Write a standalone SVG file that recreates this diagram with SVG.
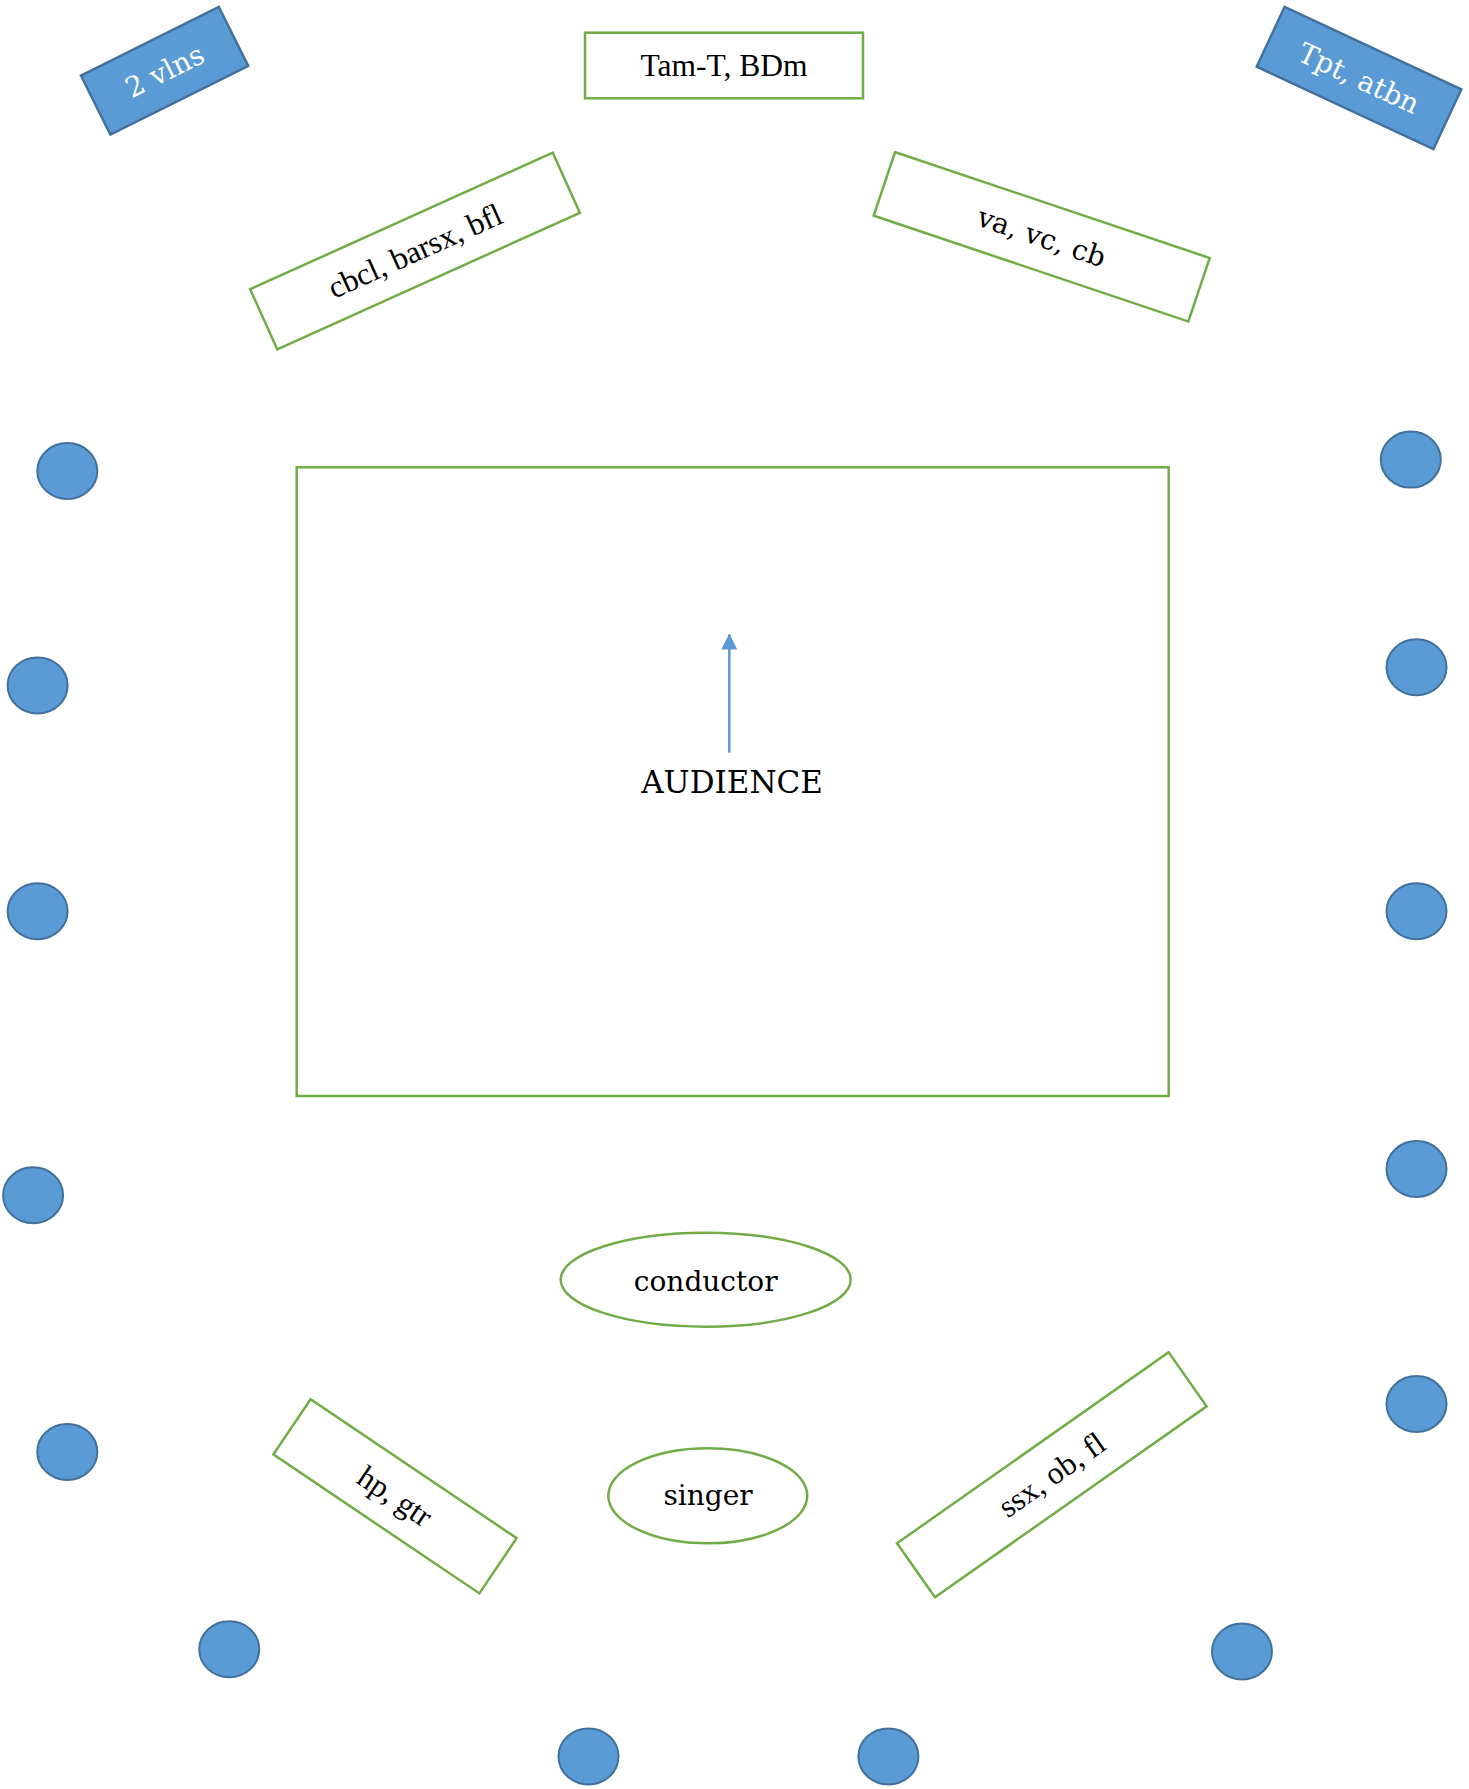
<svg xmlns="http://www.w3.org/2000/svg" width="1469" height="1789" viewBox="0 0 1469 1789">
<defs>
<style>
.g{fill:#FFFFFF;stroke:#70AD47;stroke-width:2.5}
.b{fill:#5B9BD5;stroke:#41719C;stroke-width:2.5}
.seat{fill:#5B9BD5;stroke:#41719C;stroke-width:2}
.t{font-family:"Liberation Serif","Times New Roman",serif;font-size:31.5px;fill:#000000;text-anchor:middle}
.c{font-family:"DejaVu Serif","Liberation Serif",serif;font-size:28px;fill:#000000;text-anchor:middle}
.w{fill:#FFFFFF}
</style>
<marker id="ah" markerWidth="16" markerHeight="16" refX="15" refY="8" orient="auto" markerUnits="userSpaceOnUse">
<path d="M0,0 L16,8 L0,16 Z" fill="#5B9BD5"/>
</marker>
</defs>
<rect width="1469" height="1789" fill="#FFFFFF"/>
<g id="vlns" transform="translate(164.6,70.8) rotate(-26.5)">
<rect class="b" x="-77" y="-33" width="154" height="66"/>
<text class="c w" x="0" y="10">2 vlns</text>
</g>
<g id="tamt">
<rect class="g" x="585" y="32.7" width="278" height="65.6"/>
<text class="t" x="724" y="75.5">Tam-T, BDm</text>
</g>
<g id="tpt" transform="translate(1359,78) rotate(25)">
<rect class="b" x="-97.5" y="-33" width="195" height="66"/>
<text class="c w" x="0" y="10">Tpt, atbn</text>
</g>
<g id="cbcl" transform="translate(415,251) rotate(-24.3)">
<rect class="g" x="-166" y="-33" width="332" height="66"/>
<text class="t" x="0" y="10.5">cbcl, barsx, bfl</text>
</g>
<g id="va" transform="translate(1041.7,236.8) rotate(18.6)">
<rect class="g" x="-166" y="-33.5" width="332" height="67"/>
<text class="c" x="0" y="10">va, vc, cb</text>
</g>
<g id="audience">
<rect class="g" x="296.7" y="467.3" width="872" height="628.7"/>
<text class="c" x="732" y="793.3" style="font-size:31px">AUDIENCE</text>
</g>
<g id="conductor">
<ellipse class="g" cx="705.7" cy="1279.7" rx="145" ry="47"/>
<text class="c" x="705.7" y="1290.7">conductor</text>
</g>
<g id="singer">
<ellipse class="g" cx="707.8" cy="1495.8" rx="99.5" ry="47.5"/>
<text class="c" x="708" y="1505">singer</text>
</g>
<g id="hp" transform="translate(395,1496.3) rotate(34)">
<rect class="g" x="-124.25" y="-33.3" width="248.5" height="66.6"/>
<text class="t" x="0" y="10.5">hp, gtr</text>
</g>
<g id="ssx" transform="translate(1051.8,1474.8) rotate(-35.1)">
<rect class="g" x="-166" y="-33" width="332" height="66"/>
<text class="t" x="0" y="10.5">ssx, ob, fl</text>
</g>
<g id="seats">
<ellipse class="seat" cx="67.3" cy="471" rx="30" ry="28"/>
<ellipse class="seat" cx="37.6" cy="685.4" rx="30" ry="28"/>
<ellipse class="seat" cx="37.6" cy="911.3" rx="30" ry="28"/>
<ellipse class="seat" cx="33.1" cy="1195.2" rx="30" ry="28"/>
<ellipse class="seat" cx="67.3" cy="1451.9" rx="30" ry="28"/>
<ellipse class="seat" cx="229.2" cy="1649.2" rx="30" ry="28"/>
<ellipse class="seat" cx="588.5" cy="1756.4" rx="30" ry="28"/>
<ellipse class="seat" cx="888.4" cy="1756.4" rx="30" ry="28"/>
<ellipse class="seat" cx="1242" cy="1651.5" rx="30" ry="28"/>
<ellipse class="seat" cx="1416.5" cy="1404" rx="30" ry="28"/>
<ellipse class="seat" cx="1416.5" cy="1169" rx="30" ry="28"/>
<ellipse class="seat" cx="1416.5" cy="911.3" rx="30" ry="28"/>
<ellipse class="seat" cx="1416.5" cy="667.2" rx="30" ry="28"/>
<ellipse class="seat" cx="1410.8" cy="459.6" rx="30" ry="28"/>
</g>
<g id="connectors">
<line x1="729.3" y1="752.7" x2="729.3" y2="634.5" stroke="#5B9BD5" stroke-width="2.5" marker-end="url(#ah)"/>
</g>
</svg>
